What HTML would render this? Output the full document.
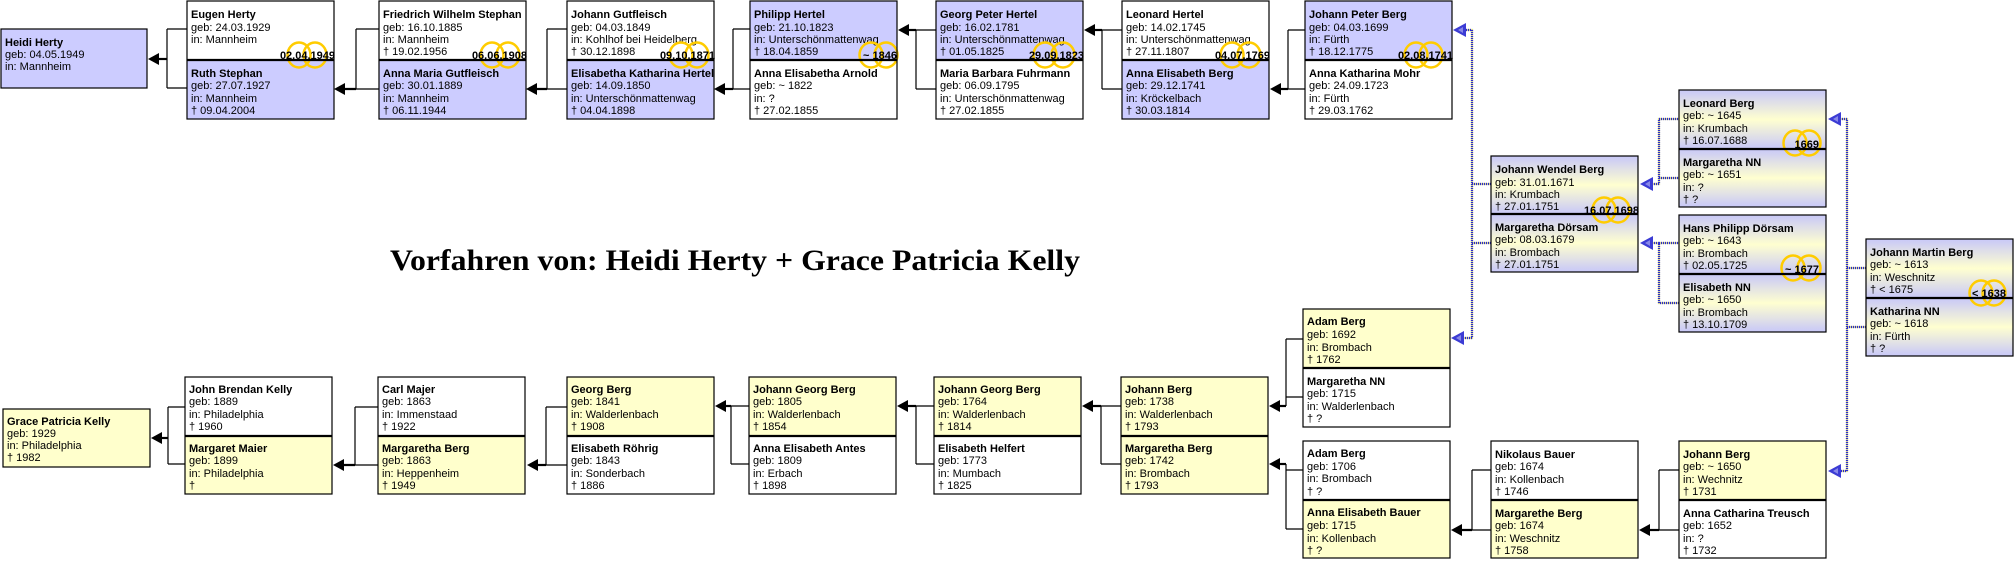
<!DOCTYPE html>
<html><head><meta charset="utf-8"><style>
html,body{margin:0;padding:0;background:#fff;}
svg{display:block;}
text{font-family:"Liberation Sans",sans-serif;font-size:11px;fill:#000;}
.n{font-weight:bold;}
.d{font-weight:bold;text-anchor:end;}
.t{font-family:"Liberation Serif",serif;font-size:30px;font-weight:bold;}
.bx{fill:none;stroke:#000;stroke-width:1.2;}
.dv{stroke:#000;stroke-width:2.2;}
.rg{fill:none;stroke:#ffcc00;stroke-width:2.5;}
.cl{fill:none;stroke:#000;stroke-width:1.2;}
.ca{stroke:#000;stroke-width:2.2;}
.bu{fill:none;stroke:#d8d890;stroke-width:2.2;}
.bd{fill:none;stroke:#2a2ad0;stroke-width:2.2;stroke-dasharray:1 1;}
</style></head><body>
<svg width="2016" height="561" viewBox="0 0 2016 561" xmlns="http://www.w3.org/2000/svg">
<defs>
<linearGradient id="g" x1="0" y1="0" x2="0" y2="1"><stop offset="0" stop-color="#c8c8f8"/><stop offset="0.5" stop-color="#ffffd0"/><stop offset="1" stop-color="#c8c8f8"/></linearGradient>
<g id="ar"><polygon points="0,0 11,-6 11,6" fill="#000"/></g>
<g id="br"><polygon points="0,0 13,-7 13,7" fill="#3c3cd4"/><polygon points="5,0 10,-3 10,3" fill="#8888e8"/></g>
</defs>

<text class="t" x="390" y="270" textLength="690" lengthAdjust="spacingAndGlyphs">Vorfahren von: Heidi Herty + Grace Patricia Kelly</text>

<g>
<path class="cl" d="M167,29 V88 M167,29 H187 M167,88 H187"/><line class="ca" x1="152" y1="59" x2="167" y2="59"/><use href="#ar" x="148" y="59"/>
<path class="cl" d="M356,29 V89 M356,29 H379 M356,89 H379"/><line class="ca" x1="338" y1="89" x2="356" y2="89"/><use href="#ar" x="334" y="89"/>
<path class="cl" d="M547,29 V89 M547,29 H567 M547,89 H567"/><line class="ca" x1="530" y1="89" x2="547" y2="89"/><use href="#ar" x="526" y="89"/>
<path class="cl" d="M733,29 V89 M733,29 H750 M733,89 H750"/><line class="ca" x1="718" y1="89" x2="733" y2="89"/><use href="#ar" x="714" y="89"/>
<path class="cl" d="M916,30 V89 M916,30 H936 M916,89 H936"/><line class="ca" x1="902" y1="30" x2="916" y2="30"/><use href="#ar" x="898" y="30"/>
<path class="cl" d="M1102,30 V89 M1102,30 H1122 M1102,89 H1122"/><line class="ca" x1="1088" y1="30" x2="1102" y2="30"/><use href="#ar" x="1084" y="30"/>
<path class="cl" d="M1288,30 V89 M1288,30 H1305 M1288,89 H1305"/><line class="ca" x1="1274" y1="89" x2="1288" y2="89"/><use href="#ar" x="1270" y="89"/>

<path class="cl" d="M168,407 V464 M168,407 H185 M168,464 H185"/><line class="ca" x1="155" y1="438" x2="168" y2="438"/><use href="#ar" x="151" y="438"/>
<path class="cl" d="M355,407 V465 M355,407 H378 M355,465 H378"/><line class="ca" x1="337" y1="465" x2="355" y2="465"/><use href="#ar" x="333" y="465"/>
<path class="cl" d="M546,407 V465 M546,407 H567 M546,465 H567"/><line class="ca" x1="531" y1="465" x2="546" y2="465"/><use href="#ar" x="527" y="465"/>
<path class="cl" d="M731,406 V464 M731,406 H749 M731,464 H749"/><line class="ca" x1="719" y1="406" x2="731" y2="406"/><use href="#ar" x="715" y="406"/>
<path class="cl" d="M916,406 V464 M916,406 H934 M916,464 H934"/><line class="ca" x1="901" y1="406" x2="916" y2="406"/><use href="#ar" x="897" y="406"/>
<path class="cl" d="M1101,406 V464 M1101,406 H1121 M1101,464 H1121"/><line class="ca" x1="1086" y1="406" x2="1101" y2="406"/><use href="#ar" x="1082" y="406"/>
<path class="cl" d="M1286,339 V406 M1286,339 H1303 M1286,397 H1303"/><line class="ca" x1="1273" y1="406" x2="1286" y2="406"/><use href="#ar" x="1269" y="406"/>
<path class="cl" d="M1286,464 V529 M1286,470 H1303 M1286,529 H1303"/><line class="ca" x1="1273" y1="464" x2="1286" y2="464"/><use href="#ar" x="1269" y="464"/>
<path class="cl" d="M1472,470 V530 M1472,470 H1491 M1472,530 H1491"/><line class="ca" x1="1455" y1="530" x2="1472" y2="530"/><use href="#ar" x="1451" y="530"/>
<path class="cl" d="M1659,470 V530 M1659,470 H1679 M1659,530 H1679"/><line class="ca" x1="1643" y1="530" x2="1659" y2="530"/><use href="#ar" x="1639" y="530"/>
</g>

<g>
<path class="bu" d="M1462,30 H1472 V338 H1462 M1472,184 H1491 M1472,243 H1491"/>
<path class="bd" d="M1462,30 H1472 V338 H1462 M1472,184 H1491 M1472,243 H1491"/>
<use href="#br" x="1453" y="30"/><use href="#br" x="1451" y="338"/>
<path class="bu" d="M1650,184 H1659 V119 H1679 M1659,178 H1679 M1650,243 H1659 V303 H1679 M1659,243 H1679"/>
<path class="bd" d="M1650,184 H1659 V119 H1679 M1659,178 H1679 M1650,243 H1659 V303 H1679 M1659,243 H1679"/>
<use href="#br" x="1640" y="184"/><use href="#br" x="1640" y="243"/>
<path class="bu" d="M1838,119 H1847 V471 H1838 M1847,268 H1866 M1847,327 H1866"/>
<path class="bd" d="M1838,119 H1847 V471 H1838 M1847,268 H1866 M1847,327 H1866"/>
<use href="#br" x="1828" y="119"/><use href="#br" x="1828" y="471"/>
</g>

<g transform="translate(1,29)"><rect width="146" height="59" fill="#ccccff"/><rect class="bx" width="146" height="59"/>
<text class="n" x="4" y="17">Heidi Herty</text><text x="4" y="29">geb: 04.05.1949</text><text x="4" y="41">in: Mannheim</text></g>

<g transform="translate(187,1)"><rect width="147" height="59" fill="#fff"/><rect y="59" width="147" height="59" fill="#ccccff"/>
<text class="n" x="4" y="17">Eugen Herty</text><text x="4" y="30">geb: 24.03.1929</text><text x="4" y="42">in: Mannheim</text>
<text class="n" x="4" y="76">Ruth Stephan</text><text x="4" y="88">geb: 27.07.1927</text><text x="4" y="101">in: Mannheim</text><text x="4" y="113">† 09.04.2004</text>
<ellipse class="rg" cx="112" cy="54" rx="11.5" ry="12.5"/><ellipse class="rg" cx="128" cy="54" rx="11.5" ry="12.5"/><text class="d" x="148" y="58">02.04.1949</text>
<line class="dv" x1="0" y1="59" x2="147" y2="59"/><rect class="bx" width="147" height="118"/></g>

<g transform="translate(379,1)"><rect width="147" height="59" fill="#fff"/><rect y="59" width="147" height="59" fill="#ccccff"/>
<text class="n" x="4" y="17">Friedrich Wilhelm Stephan</text><text x="4" y="30">geb: 16.10.1885</text><text x="4" y="42">in: Mannheim</text><text x="4" y="54">† 19.02.1956</text>
<text class="n" x="4" y="76">Anna Maria Gutfleisch</text><text x="4" y="88">geb: 30.01.1889</text><text x="4" y="101">in: Mannheim</text><text x="4" y="113">† 06.11.1944</text>
<ellipse class="rg" cx="113" cy="54" rx="11.5" ry="12.5"/><ellipse class="rg" cx="129" cy="54" rx="11.5" ry="12.5"/><text class="d" x="148" y="58">06.06.1908</text>
<line class="dv" x1="0" y1="59" x2="147" y2="59"/><rect class="bx" width="147" height="118"/></g>

<g transform="translate(567,1)"><rect width="147" height="59" fill="#fff"/><rect y="59" width="147" height="59" fill="#ccccff"/>
<text class="n" x="4" y="17">Johann Gutfleisch</text><text x="4" y="30">geb: 04.03.1849</text><text x="4" y="42">in: Kohlhof bei Heidelberg</text><text x="4" y="54">† 30.12.1898</text>
<text class="n" x="4" y="76">Elisabetha Katharina Hertel</text><text x="4" y="88">geb: 14.09.1850</text><text x="4" y="101">in: Unterschönmattenwag</text><text x="4" y="113">† 04.04.1898</text>
<ellipse class="rg" cx="114" cy="54" rx="11.5" ry="12.5"/><ellipse class="rg" cx="130" cy="54" rx="11.5" ry="12.5"/><text class="d" x="148" y="58">09.10.1871</text>
<line class="dv" x1="0" y1="59" x2="147" y2="59"/><rect class="bx" width="147" height="118"/></g>

<g transform="translate(750,1)"><rect width="147" height="59" fill="#ccccff"/><rect y="59" width="147" height="59" fill="#fff"/>
<text class="n" x="4" y="17">Philipp Hertel</text><text x="4" y="30">geb: 21.10.1823</text><text x="4" y="42">in: Unterschönmattenwag</text><text x="4" y="54">† 18.04.1859</text>
<text class="n" x="4" y="76">Anna Elisabetha Arnold</text><text x="4" y="88">geb: ~ 1822</text><text x="4" y="101">in: ?</text><text x="4" y="113">† 27.02.1855</text>
<ellipse class="rg" cx="121" cy="54" rx="11.5" ry="12.5"/><ellipse class="rg" cx="136" cy="54" rx="11.5" ry="12.5"/><text class="d" x="147" y="58">~ 1846</text>
<line class="dv" x1="0" y1="59" x2="147" y2="59"/><rect class="bx" width="147" height="118"/></g>

<g transform="translate(936,1)"><rect width="147" height="59" fill="#ccccff"/><rect y="59" width="147" height="59" fill="#fff"/>
<text class="n" x="4" y="17">Georg Peter Hertel</text><text x="4" y="30">geb: 16.02.1781</text><text x="4" y="42">in: Unterschönmattenwag</text><text x="4" y="54">† 01.05.1825</text>
<text class="n" x="4" y="76">Maria Barbara Fuhrmann</text><text x="4" y="88">geb: 06.09.1795</text><text x="4" y="101">in: Unterschönmattenwag</text><text x="4" y="113">† 27.02.1855</text>
<ellipse class="rg" cx="109" cy="54" rx="11.5" ry="12.5"/><ellipse class="rg" cx="127" cy="54" rx="11.5" ry="12.5"/><text class="d" x="148" y="58">29.09.1823</text>
<line class="dv" x1="0" y1="59" x2="147" y2="59"/><rect class="bx" width="147" height="118"/></g>

<g transform="translate(1122,1)"><rect width="147" height="59" fill="#fff"/><rect y="59" width="147" height="59" fill="#ccccff"/>
<text class="n" x="4" y="17">Leonard Hertel</text><text x="4" y="30">geb: 14.02.1745</text><text x="4" y="42">in: Unterschönmattenwag</text><text x="4" y="54">† 27.11.1807</text>
<text class="n" x="4" y="76">Anna Elisabeth Berg</text><text x="4" y="88">geb: 29.12.1741</text><text x="4" y="101">in: Kröckelbach</text><text x="4" y="113">† 30.03.1814</text>
<ellipse class="rg" cx="110" cy="54" rx="11.5" ry="12.5"/><ellipse class="rg" cx="127" cy="54" rx="11.5" ry="12.5"/><text class="d" x="148" y="58">04.07.1769</text>
<line class="dv" x1="0" y1="59" x2="147" y2="59"/><rect class="bx" width="147" height="118"/></g>

<g transform="translate(1305,1)"><rect width="147" height="59" fill="#ccccff"/><rect y="59" width="147" height="59" fill="#fff"/>
<text class="n" x="4" y="17">Johann Peter Berg</text><text x="4" y="30">geb: 04.03.1699</text><text x="4" y="42">in: Fürth</text><text x="4" y="54">† 18.12.1775</text>
<text class="n" x="4" y="76">Anna Katharina Mohr</text><text x="4" y="88">geb: 24.09.1723</text><text x="4" y="101">in: Fürth</text><text x="4" y="113">† 29.03.1762</text>
<ellipse class="rg" cx="111" cy="54" rx="11.5" ry="12.5"/><ellipse class="rg" cx="126" cy="54" rx="11.5" ry="12.5"/><text class="d" x="148" y="58">02.08.1741</text>
<line class="dv" x1="0" y1="59" x2="147" y2="59"/><rect class="bx" width="147" height="118"/></g>

<g transform="translate(1491,156)"><rect width="147" height="58" fill="url(#g)"/><rect y="58" width="147" height="58" fill="url(#g)"/>
<text class="n" x="4" y="17">Johann Wendel Berg</text><text x="4" y="30">geb: 31.01.1671</text><text x="4" y="42">in: Krumbach</text><text x="4" y="54">† 27.01.1751</text>
<text class="n" x="4" y="75">Margaretha Dörsam</text><text x="4" y="87">geb: 08.03.1679</text><text x="4" y="100">in: Brombach</text><text x="4" y="112">† 27.01.1751</text>
<ellipse class="rg" cx="113" cy="54" rx="11.5" ry="12.5"/><ellipse class="rg" cx="127" cy="54" rx="11.5" ry="12.5"/><text class="d" x="148" y="58">16.07.1698</text>
<line class="dv" x1="0" y1="58" x2="147" y2="58"/><rect class="bx" width="147" height="116"/></g>

<g transform="translate(1679,90)"><rect width="147" height="59" fill="url(#g)"/><rect y="59" width="147" height="58" fill="url(#g)"/>
<text class="n" x="4" y="17">Leonard Berg</text><text x="4" y="29">geb: ~ 1645</text><text x="4" y="42">in: Krumbach</text><text x="4" y="54">† 16.07.1688</text>
<text class="n" x="4" y="76">Margaretha NN</text><text x="4" y="88">geb: ~ 1651</text><text x="4" y="101">in: ?</text><text x="4" y="113">† ?</text>
<ellipse class="rg" cx="116" cy="53" rx="11.5" ry="12.5"/><ellipse class="rg" cx="130" cy="53" rx="11.5" ry="12.5"/><text class="d" x="140" y="58">1669</text>
<line class="dv" x1="0" y1="59" x2="147" y2="59"/><rect class="bx" width="147" height="117"/></g>

<g transform="translate(1679,215)"><rect width="147" height="59" fill="url(#g)"/><rect y="59" width="147" height="58" fill="url(#g)"/>
<text class="n" x="4" y="17">Hans Philipp Dörsam</text><text x="4" y="29">geb: ~ 1643</text><text x="4" y="42">in: Brombach</text><text x="4" y="54">† 02.05.1725</text>
<text class="n" x="4" y="76">Elisabeth NN</text><text x="4" y="88">geb: ~ 1650</text><text x="4" y="101">in: Brombach</text><text x="4" y="113">† 13.10.1709</text>
<ellipse class="rg" cx="114" cy="53" rx="11.5" ry="12.5"/><ellipse class="rg" cx="130" cy="53" rx="11.5" ry="12.5"/><text class="d" x="140" y="58">~ 1677</text>
<line class="dv" x1="0" y1="59" x2="147" y2="59"/><rect class="bx" width="147" height="117"/></g>

<g transform="translate(1866,239)"><rect width="147" height="59" fill="url(#g)"/><rect y="59" width="147" height="58" fill="url(#g)"/>
<text class="n" x="4" y="17">Johann Martin Berg</text><text x="4" y="29">geb: ~ 1613</text><text x="4" y="42">in: Weschnitz</text><text x="4" y="54">† &lt; 1675</text>
<text class="n" x="4" y="76">Katharina NN</text><text x="4" y="88">geb: ~ 1618</text><text x="4" y="101">in: Fürth</text><text x="4" y="113">† ?</text>
<ellipse class="rg" cx="115" cy="54" rx="11.5" ry="12.5"/><ellipse class="rg" cx="128" cy="54" rx="11.5" ry="12.5"/><text class="d" x="140" y="58">&lt; 1638</text>
<line class="dv" x1="0" y1="59" x2="147" y2="59"/><rect class="bx" width="147" height="117"/></g>

<g transform="translate(3,409)"><rect width="147" height="58" fill="#ffffcc"/><rect class="bx" width="147" height="58"/>
<text class="n" x="4" y="16">Grace Patricia Kelly</text><text x="4" y="28">geb: 1929</text><text x="4" y="40">in: Philadelphia</text><text x="4" y="52">† 1982</text></g>

<g transform="translate(185,377)"><rect width="147" height="59" fill="#fff"/><rect y="59" width="147" height="58" fill="#ffffcc"/>
<text class="n" x="4" y="16">John Brendan Kelly</text><text x="4" y="28">geb: 1889</text><text x="4" y="41">in: Philadelphia</text><text x="4" y="53">† 1960</text>
<text class="n" x="4" y="75">Margaret Maier</text><text x="4" y="87">geb: 1899</text><text x="4" y="100">in: Philadelphia</text><text x="4" y="112">†</text>
<line class="dv" x1="0" y1="59" x2="147" y2="59"/><rect class="bx" width="147" height="117"/></g>

<g transform="translate(378,377)"><rect width="147" height="59" fill="#fff"/><rect y="59" width="147" height="58" fill="#ffffcc"/>
<text class="n" x="4" y="16">Carl Majer</text><text x="4" y="28">geb: 1863</text><text x="4" y="41">in: Immenstaad</text><text x="4" y="53">† 1922</text>
<text class="n" x="4" y="75">Margaretha Berg</text><text x="4" y="87">geb: 1863</text><text x="4" y="100">in: Heppenheim</text><text x="4" y="112">† 1949</text>
<line class="dv" x1="0" y1="59" x2="147" y2="59"/><rect class="bx" width="147" height="117"/></g>

<g transform="translate(567,377)"><rect width="147" height="59" fill="#ffffcc"/><rect y="59" width="147" height="58" fill="#fff"/>
<text class="n" x="4" y="16">Georg Berg</text><text x="4" y="28">geb: 1841</text><text x="4" y="41">in: Walderlenbach</text><text x="4" y="53">† 1908</text>
<text class="n" x="4" y="75">Elisabeth Röhrig</text><text x="4" y="87">geb: 1843</text><text x="4" y="100">in: Sonderbach</text><text x="4" y="112">† 1886</text>
<line class="dv" x1="0" y1="59" x2="147" y2="59"/><rect class="bx" width="147" height="117"/></g>

<g transform="translate(749,377)"><rect width="147" height="59" fill="#ffffcc"/><rect y="59" width="147" height="58" fill="#fff"/>
<text class="n" x="4" y="16">Johann Georg Berg</text><text x="4" y="28">geb: 1805</text><text x="4" y="41">in: Walderlenbach</text><text x="4" y="53">† 1854</text>
<text class="n" x="4" y="75">Anna Elisabeth Antes</text><text x="4" y="87">geb: 1809</text><text x="4" y="100">in: Erbach</text><text x="4" y="112">† 1898</text>
<line class="dv" x1="0" y1="59" x2="147" y2="59"/><rect class="bx" width="147" height="117"/></g>

<g transform="translate(934,377)"><rect width="147" height="59" fill="#ffffcc"/><rect y="59" width="147" height="58" fill="#fff"/>
<text class="n" x="4" y="16">Johann Georg Berg</text><text x="4" y="28">geb: 1764</text><text x="4" y="41">in: Walderlenbach</text><text x="4" y="53">† 1814</text>
<text class="n" x="4" y="75">Elisabeth Helfert</text><text x="4" y="87">geb: 1773</text><text x="4" y="100">in: Mumbach</text><text x="4" y="112">† 1825</text>
<line class="dv" x1="0" y1="59" x2="147" y2="59"/><rect class="bx" width="147" height="117"/></g>

<g transform="translate(1121,377)"><rect width="147" height="59" fill="#ffffcc"/><rect y="59" width="147" height="58" fill="#ffffcc"/>
<text class="n" x="4" y="16">Johann Berg</text><text x="4" y="28">geb: 1738</text><text x="4" y="41">in: Walderlenbach</text><text x="4" y="53">† 1793</text>
<text class="n" x="4" y="75">Margaretha Berg</text><text x="4" y="87">geb: 1742</text><text x="4" y="100">in: Brombach</text><text x="4" y="112">† 1793</text>
<line class="dv" x1="0" y1="59" x2="147" y2="59"/><rect class="bx" width="147" height="117"/></g>

<g transform="translate(1303,309)"><rect width="147" height="59" fill="#ffffcc"/><rect y="59" width="147" height="59" fill="#fff"/>
<text class="n" x="4" y="16">Adam Berg</text><text x="4" y="29">geb: 1692</text><text x="4" y="42">in: Brombach</text><text x="4" y="54">† 1762</text>
<text class="n" x="4" y="76">Margaretha NN</text><text x="4" y="88">geb: 1715</text><text x="4" y="101">in: Walderlenbach</text><text x="4" y="113">† ?</text>
<line class="dv" x1="0" y1="59" x2="147" y2="59"/><rect class="bx" width="147" height="118"/></g>

<g transform="translate(1303,441)"><rect width="147" height="59" fill="#fff"/><rect y="59" width="147" height="58" fill="#ffffcc"/>
<text class="n" x="4" y="16">Adam Berg</text><text x="4" y="29">geb: 1706</text><text x="4" y="41">in: Brombach</text><text x="4" y="54">† ?</text>
<text class="n" x="4" y="75">Anna Elisabeth Bauer</text><text x="4" y="88">geb: 1715</text><text x="4" y="101">in: Kollenbach</text><text x="4" y="113">† ?</text>
<line class="dv" x1="0" y1="59" x2="147" y2="59"/><rect class="bx" width="147" height="117"/></g>

<g transform="translate(1491,441)"><rect width="147" height="59" fill="#fff"/><rect y="59" width="147" height="58" fill="#ffffcc"/>
<text class="n" x="4" y="17">Nikolaus Bauer</text><text x="4" y="29">geb: 1674</text><text x="4" y="42">in: Kollenbach</text><text x="4" y="54">† 1746</text>
<text class="n" x="4" y="76">Margarethe Berg</text><text x="4" y="88">geb: 1674</text><text x="4" y="101">in: Weschnitz</text><text x="4" y="113">† 1758</text>
<line class="dv" x1="0" y1="59" x2="147" y2="59"/><rect class="bx" width="147" height="117"/></g>

<g transform="translate(1679,441)"><rect width="147" height="59" fill="#ffffcc"/><rect y="59" width="147" height="58" fill="#fff"/>
<text class="n" x="4" y="17">Johann Berg</text><text x="4" y="29">geb: ~ 1650</text><text x="4" y="42">in: Wechnitz</text><text x="4" y="54">† 1731</text>
<text class="n" x="4" y="76">Anna Catharina Treusch</text><text x="4" y="88">geb: 1652</text><text x="4" y="101">in: ?</text><text x="4" y="113">† 1732</text>
<line class="dv" x1="0" y1="59" x2="147" y2="59"/><rect class="bx" width="147" height="117"/></g>
</svg>
</body></html>
